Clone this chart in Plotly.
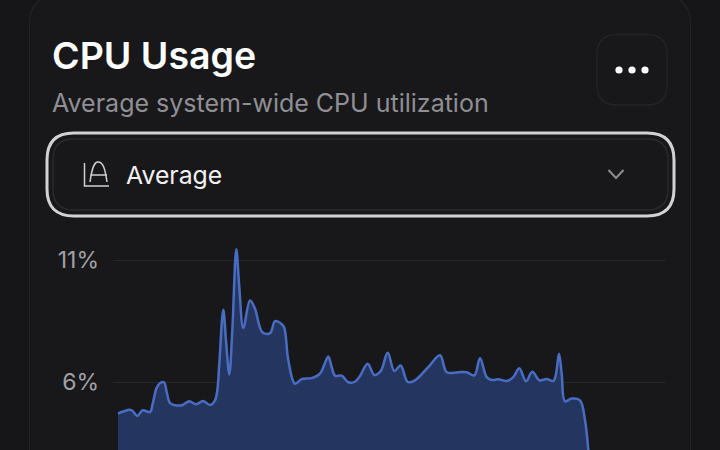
import plotly.graph_objects as go

# chart values
cpu_time = [0, 5.3, 12, 14.7, 19.3, 24.7, 32, 34.7, 38.7, 42, 46, 48.7, 52, 57, 64.7, 71.3, 78, 85.3, 92, 97,
            99.3, 101.3, 105.3, 108, 111.3, 114.3, 118.3, 121.3, 125.3, 132, 137, 144.3, 152, 157, 162, 166,
            170.3, 177, 183.7, 193.7, 202, 206, 210.3, 213.7, 217, 223.7, 230.3, 237, 242, 249.7, 256.3, 262.7,
            269.7, 276.3, 282.7, 289.7, 297, 310.3, 322, 328.7, 340.3, 348.7, 356.3, 362, 368.7, 373.7, 380.3,
            388.7, 395.3, 401.3, 408, 414.3, 421.3, 428.7, 435.3, 438, 441, 443.7, 447, 453.7, 462, 467, 470.3,
            473, 475]
cpu_usage = [4.71, 4.79, 4.86, 4.81, 4.61, 4.84, 4.77, 5.11, 5.77, 5.95, 5.99, 5.59, 5.14, 5.05, 5.06, 5.21, 5.09,
             5.22, 5.06, 5.25, 5.66, 6.75, 8.96, 7.70, 6.31, 8.11, 11.44, 9.88, 8.21, 9.34, 9.00, 8.04, 8.00, 8.49,
             8.43, 8.25, 6.89, 5.93, 6.12, 6.16, 6.34, 6.68, 7.04, 6.61, 6.26, 6.26, 5.99, 6.01, 6.25, 6.75, 6.29,
             6.45, 7.20, 6.45, 6.68, 6.00, 6.07, 6.61, 7.10, 6.40, 6.40, 6.40, 6.27, 6.97, 6.20, 6.08, 6.11, 6.04,
             6.20, 6.56, 6.03, 6.42, 6.07, 6.12, 6.04, 6.34, 7.16, 6.34, 5.21, 5.32, 5.25, 4.43, 3.21, 1.5, 0]
y_ticks = [6, 11]
y_tick_labels = ["6%", "11%"]
hidden_tick = "3%"

W, H = 720, 450
BG = "#161618"
CARD = "#18181a"
BORDER = "#242427"


# pixel helpers, everything around the chart is placed in screen pixels
def px(x):
    return x / W


def py(y):
    return 1 - y / H


def pt(x, y):
    return f"{px(x):.5f},{py(y):.5f}"


def round_rect(x0, y0, x1, y1, r):
    return (f"M{pt(x0 + r, y0)} L{pt(x1 - r, y0)} Q{pt(x1, y0)} {pt(x1, y0 + r)} "
            f"L{pt(x1, y1 - r)} Q{pt(x1, y1)} {pt(x1 - r, y1)} "
            f"L{pt(x0 + r, y1)} Q{pt(x0, y1)} {pt(x0, y1 - r)} "
            f"L{pt(x0, y0 + r)} Q{pt(x0, y0)} {pt(x0 + r, y0)} Z")


def shape(path, line=None, width=1.0, fill=None):
    return dict(type="path", xref="paper", yref="paper", path=path, layer="below",
                fillcolor=fill or "rgba(0,0,0,0)",
                line=dict(color=line or "rgba(0,0,0,0)", width=width))


def label(text, x, y, size, color, weight=400, anchor="left"):
    return dict(text=text, xref="paper", yref="paper", x=px(x), y=py(y), xanchor=anchor, yanchor="middle",
                showarrow=False, font=dict(family="Inter", size=size, color=color, weight=weight))


shapes = [
    shape(round_rect(29.5, -4, 690.5, 480, 28), line=BORDER, width=1.2, fill=CARD),
    shape(round_rect(597, 34.5, 667, 105, 20), line=BORDER, width=1.4),
    shape(round_rect(47, 133, 674, 216, 27), line="#d2d2d2", width=3),
    shape(round_rect(53, 139, 668, 210, 21), line="#2a2a2d", width=1.5),
    # dropdown icon
    shape(f"M{pt(84.5, 163)} L{pt(84.5, 186)} L{pt(109, 186)}", line="#cfcfcf", width=1.5),
    shape(f"M{pt(90, 182)} C{pt(92, 168)} {pt(94, 162)} {pt(98, 162)} C{pt(103, 162)} {pt(105, 168)} {pt(107, 182)}",
          line="#cfcfcf", width=1.5),
    shape(f"M{pt(90.5, 175)} L{pt(107, 175)}", line="#cfcfcf", width=1.5),
    # chevron
    shape(f"M{pt(608.5, 170)} L{pt(616, 178)} L{pt(623.5, 170)}", line="#8c8c90", width=2),
]

# the three dots of the menu button
for dot_x in [619, 632, 645]:
    shapes.append(dict(type="circle", xref="paper", yref="paper", layer="above",
                       x0=px(dot_x - 3.6), x1=px(dot_x + 3.6), y0=py(70 + 3.6), y1=py(70 - 3.6),
                       fillcolor="#ffffff", line=dict(width=0)))

annotations = [
    label("CPU Usage", 50, 55, 37.5, "#ffffff", weight=600),
    label("Average system-wide CPU utilization", 50, 103, 25, "#8f8f94"),
    label("Average", 124, 175, 24.8, "#f2f2f2"),
    dict(text=hidden_tick, xref="paper", yref="paper", x=px(99), y=0, xanchor="right", yanchor="top", yshift=4,
         showarrow=False, font=dict(family="Inter", size=23, color="#a1a1a6")),
]

fig = go.Figure(go.Scatter(
    x=cpu_time, y=cpu_usage, mode="lines", fill="tozeroy",
    line=dict(color="#4a6dc4", width=2.5, shape="spline", smoothing=1.0),
    fillcolor="#24365f", hoverinfo="skip",
))

fig.update_layout(
    width=W, height=H, margin=dict(l=0, r=0, t=0, b=0),
    paper_bgcolor=BG, plot_bgcolor="rgba(0,0,0,0)", showlegend=False,
    shapes=shapes, annotations=annotations,
    xaxis=dict(domain=[px(113), px(666)], range=[-5, 548], visible=False),
    yaxis=dict(domain=[0, 1], range=[3.213, 21.656], tickvals=y_ticks, ticktext=y_tick_labels, ticks="",
               ticklabelstandoff=13, zeroline=False, showline=False, gridcolor="#27272a", gridwidth=1,
               anchor="x", tickfont=dict(family="Inter", size=23, color="#a1a1a6")),
)

fig.write_html("out.html", config=dict(displayModeBar=False),
               post_script="document.body.style.margin='0';document.body.style.background='#161618';")
